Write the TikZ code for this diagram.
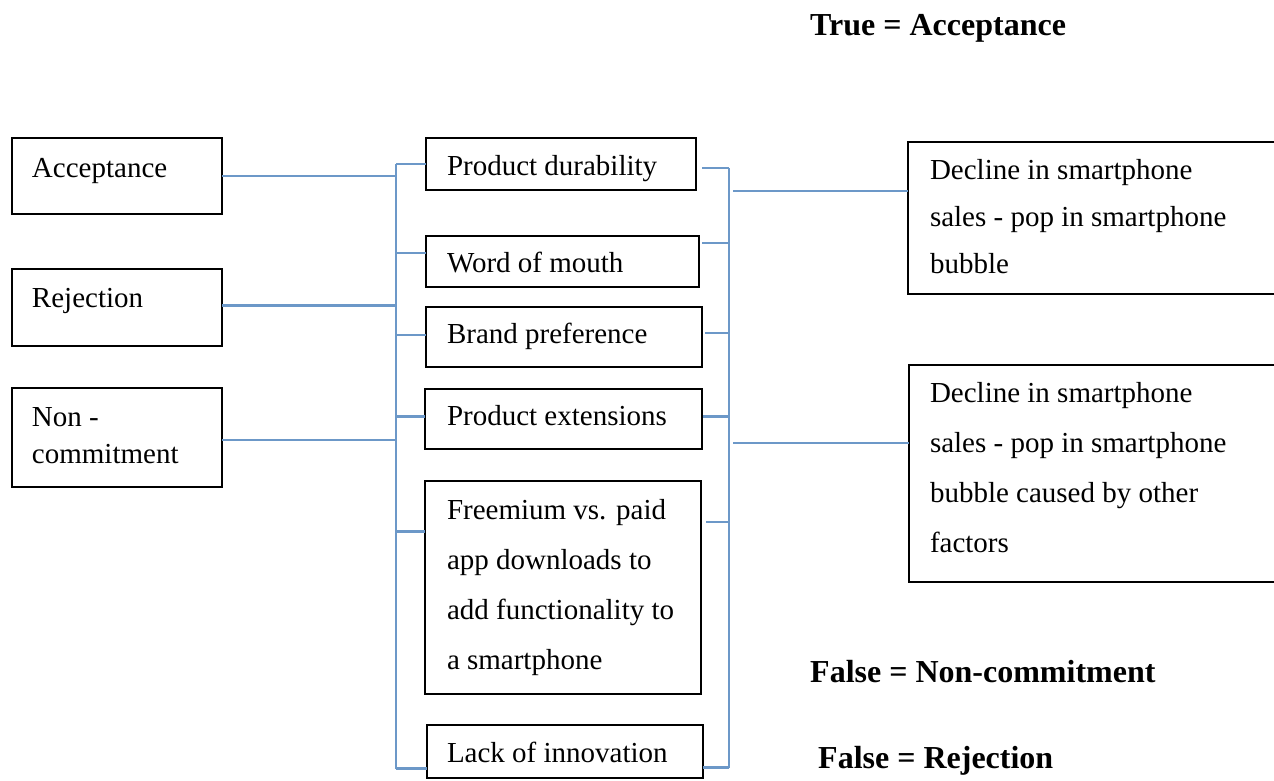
\documentclass[tikz,border=0pt]{standalone}
\usepackage{fontspec}
\setmainfont{Liberation Serif}
\definecolor{connblue}{RGB}{108,152,200}
% width, height, left pad, first baseline, text
\newcommand{\bt}[5]{\begin{minipage}[t][#2pt][t]{#1pt}\raggedright\leftskip=#3pt\relax\rule{0pt}{#4pt}#5\end{minipage}}
\tikzset{
  box/.style={draw=black, line width=2pt, inner sep=0pt, outer sep=0pt, anchor=north west, font=\fontsize{29}{48}\selectfont},
  lbl/.style={anchor=base west, inner sep=0pt, font=\fontsize{32}{38}\selectfont\bfseries},
  conn/.style={draw=connblue, line width=2.8pt}
}
\begin{document}
\begin{tikzpicture}[x=1pt,y=-1pt]
\useasboundingbox (0,0) rectangle (1274,780);
\fill[white] (0,0) rectangle (1274,780);

% left boxes
\node[box] (acc) at (12,138) {\bt{210}{76}{20}{39}{Acceptance}};
\node[box] (rej) at (12,269) {\bt{210}{77}{20}{38}{Rejection}};
\node[box] (nc)  at (12,388) {\bt{210}{99}{20}{38}{\fontsize{29}{37}\selectfont Non -\\commitment}};

% middle boxes
\node[box] (pd)   at (426,138) {\bt{270}{52}{21}{37}{Product durability}};
\node[box] (wom)  at (426,236) {\bt{273}{51}{21}{36}{Word of mouth}};
\node[box] (bp)   at (426,307) {\bt{276}{60}{21}{36}{Brand preference}};
\node[box] (pe)   at (425,389) {\bt{277}{60}{22}{36}{Product extensions}};
\node[box] (fr)   at (425,481) {\bt{276}{213}{22}{38}{\fontsize{29}{50}\selectfont Freemium vs. paid\\app downloads to\\add functionality to\\a smartphone}};
\node[box] (lack) at (427,725) {\bt{276}{53}{20}{37}{Lack of innovation}};

% right boxes
\node[box] (d1) at (908,142) {\bt{372}{152}{22}{37}{\fontsize{29}{47}\selectfont Decline in smartphone\\sales - pop in smartphone\\bubble}};
\node[box] (d2) at (909,365) {\bt{371}{217}{21}{37}{\fontsize{29}{50}\selectfont Decline in smartphone\\sales - pop in smartphone\\bubble caused by other\\factors}};

% labels
\node[lbl] (ta) at (810,35)  {True = Acceptance};
\node[lbl] (fn) at (810,682) {False = Non-commitment};
\node[lbl] (fj) at (818,768) {False = Rejection};

% bus reference coordinates
\coordinate (lb) at (396,0);
\coordinate (rb) at (729,0);
\coordinate (rc) at (733,0);

% left connectors
\draw[conn] (acc.east) -- (acc.east -| lb);
\draw[conn] ([yshift=2pt]rej.east) -- ([yshift=2pt]rej.east -| lb);
\draw[conn] ([yshift=-2.5pt]nc.east) -- ([yshift=-2.5pt]nc.east -| lb);

% left bus
\draw[conn] (pd.west -| lb) -- ([yshift=-17pt]lack.west -| lb);
\draw[conn] (pd.west -| lb) -- (pd.west);
\draw[conn] ([yshift=8.5pt]wom.west -| lb) -- ([yshift=8.5pt]wom.west);
\draw[conn] ([yshift=2pt]bp.west -| lb) -- ([yshift=2pt]bp.west);
\draw[conn] ([yshift=2.3pt]pe.west -| lb) -- ([yshift=2.3pt]pe.west);
\draw[conn] ([yshift=55.8pt]fr.west -| lb) -- ([yshift=55.8pt]fr.west);
\draw[conn] ([yshift=-17pt]lack.west -| lb) -- ([yshift=-17pt]lack.west);

% right bus
\draw[conn] ([yshift=-4pt]pd.east -| rb) -- ([yshift=-16pt]lack.east -| rb);
\draw[conn] ([xshift=6pt,yshift=-4pt]pd.east) -- ([yshift=-4pt]pd.east -| rb);
\draw[conn] ([xshift=3pt,yshift=18.5pt]wom.east) -- ([yshift=18.5pt]wom.east -| rb);
\draw[conn] ([xshift=3pt,yshift=4pt]bp.east) -- ([yshift=4pt]bp.east -| rb);
\draw[conn] ([xshift=1pt,yshift=2.3pt]pe.east) -- ([yshift=2.3pt]pe.east -| rb);
\draw[conn] ([xshift=5pt,yshift=65.5pt]fr.east) -- ([yshift=65.5pt]fr.east -| rb);
\draw[conn] ([yshift=-16pt]lack.east) -- ([yshift=-16pt]lack.east -| rb);

% right connectors
\draw[conn] ([yshift=27pt]d1.west -| rc) -- ([yshift=27pt]d1.west);
\draw[conn] ([yshift=30.5pt]d2.west -| rc) -- ([yshift=30.5pt]d2.west);
\end{tikzpicture}
\end{document}
